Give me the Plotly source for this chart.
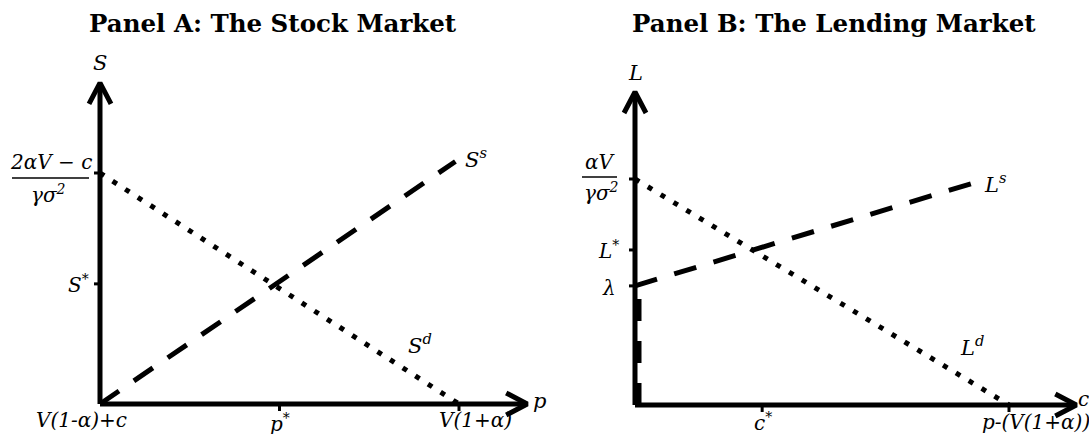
import plotly.graph_objects as go

PAD = 0
W, H = 1089 - PAD, 434 - PAD

# ---------------- data (abstract units) ----------------
# Panel A: the stock market
a_xtick_vals = [0, 50, 100]
a_xtick_text = ["V(1-α)+c", "p<sup>*</sup>", "V(1+α)"]
a_ytick_vals = [52, 100]
a_supply_x = [0, 99]
a_supply_y = [0, 105]
a_demand_x = [0, 100]
a_demand_y = [100, 0]
a_axis_x_end = 119
a_axis_y_end = 139

# Panel B: the lending market
b_xtick_vals = [34, 100]
b_xtick_text = ["c<sup>*</sup>", "p-(V(1+α))"]
b_ytick_vals = [52.7, 68.6, 100]
b_ytick_text = ["λ", "L<sup>*</sup>"]
b_supply_x = [0, 92]
b_supply_y = [52.7, 99]
b_vert_y = [0, 52.7]
b_demand_x = [0, 100]
b_demand_y = [100, 0]
b_axis_x_end = 118
b_axis_y_end = 138.5

# ---------------- geometry (pixels in the page) ----------------
A = dict(ox=100 - PAD, oy=404 - PAD, sx=3.59, sy=2.31)
B = dict(ox=635 - PAD, oy=405 - PAD, sx=3.74, sy=2.26)

def xrange(p):
    return [-p["ox"] / p["sx"], (W - p["ox"]) / p["sx"]]

def yrange(p):
    return [-(H - p["oy"]) / p["sy"], p["oy"] / p["sy"]]

def to_paper(p, x, y):
    xr, yr = xrange(p), yrange(p)
    return (x - xr[0]) / (xr[1] - xr[0]), (y - yr[0]) / (yr[1] - yr[0])

fig = go.Figure()
BLACK = "#000000"
LW = 5
shapes = []

def add_axes(p, xa, ya, xend, yend):
    fig.add_trace(go.Scatter(x=[0, xend], y=[0, 0], mode="lines",
                             line=dict(color=BLACK, width=LW),
                             xaxis=xa, yaxis=ya, hoverinfo="skip"))
    fig.add_trace(go.Scatter(x=[0, 0], y=[0, yend], mode="lines",
                             line=dict(color=BLACK, width=LW),
                             xaxis=xa, yaxis=ya, hoverinfo="skip"))
    ax_l, ax_w = 21, 11
    fig.add_trace(go.Scatter(
        x=[xend - ax_l / p["sx"], xend, xend - ax_l / p["sx"]],
        y=[ax_w / p["sy"], 0, -ax_w / p["sy"]], mode="lines",
        line=dict(color=BLACK, width=LW), xaxis=xa, yaxis=ya, hoverinfo="skip"))
    fig.add_trace(go.Scatter(
        x=[-ax_w / p["sx"], 0, ax_w / p["sx"]],
        y=[yend - ax_l / p["sy"], yend, yend - ax_l / p["sy"]], mode="lines",
        line=dict(color=BLACK, width=LW), xaxis=xa, yaxis=ya, hoverinfo="skip"))

def add_ticks(xvals, yvals, xr, yr):
    for v in xvals:
        shapes.append(dict(type="line", xref=xr, yref=yr, ysizemode="pixel",
                           yanchor=0, x0=v, x1=v, y0=-7, y1=0,
                           line=dict(color=BLACK, width=3)))
    for v in yvals:
        shapes.append(dict(type="line", xref=xr, yref=yr, xsizemode="pixel",
                           xanchor=0, y0=v, y1=v, x0=-6, x1=0,
                           line=dict(color=BLACK, width=3)))

DASH = "23px,18px"
DOT = "5px,10px"

# ---- Panel A ----
fig.add_trace(go.Scatter(x=a_demand_x, y=a_demand_y, mode="lines",
                         line=dict(color=BLACK, width=5, dash=DOT),
                         xaxis="x", yaxis="y", hoverinfo="skip"))
fig.add_trace(go.Scatter(x=a_supply_x, y=a_supply_y, mode="lines",
                         line=dict(color=BLACK, width=5, dash=DASH),
                         xaxis="x", yaxis="y", hoverinfo="skip"))
add_axes(A, "x", "y", a_axis_x_end, a_axis_y_end)
add_ticks(a_xtick_vals[1:], a_ytick_vals, "x", "y")

# ---- Panel B ----
fig.add_trace(go.Scatter(x=b_demand_x, y=b_demand_y, mode="lines",
                         line=dict(color=BLACK, width=5, dash=DOT),
                         xaxis="x2", yaxis="y2", hoverinfo="skip"))
fig.add_trace(go.Scatter(x=b_supply_x, y=b_supply_y, mode="lines",
                         line=dict(color=BLACK, width=5, dash=DASH),
                         xaxis="x2", yaxis="y2", hoverinfo="skip"))
add_axes(B, "x2", "y2", b_axis_x_end, b_axis_y_end)
off = 3 / B["sx"]
fig.add_trace(go.Scatter(x=[off, off], y=b_vert_y, mode="lines",
                         line=dict(color=BLACK, width=7, dash="22px,20px"),
                         xaxis="x2", yaxis="y2", hoverinfo="skip"))
add_ticks(b_xtick_vals, b_ytick_vals, "x2", "y2")

# ---------------- text ----------------
FONT = "DejaVu Serif"
ann = []

def lab(text, x, y, xr, yr, dx=0, dy=0, size=20, xanchor="center"):
    ann.append(dict(text="<i>" + text + "</i>", x=x, y=y, xref=xr, yref=yr,
                    xshift=dx, yshift=dy, showarrow=False, xanchor=xanchor,
                    yanchor="middle", font=dict(family=FONT, size=size, color=BLACK)))

# titles (page pixel centres)
for t, cx in [("Panel A: The Stock Market", 273), ("Panel B: The Lending Market", 834)]:
    ann.append(dict(text="<b>" + t + "</b>", x=(cx - PAD) / W, y=1 - (23 - PAD) / H,
                    xref="paper", yref="paper", showarrow=False, xanchor="center",
                    yanchor="middle", font=dict(family=FONT, size=24.5, color=BLACK)))

# Panel A labels
lab("S", 0, a_axis_y_end, "x", "y", 0, 20, size=21)
lab("p", a_axis_x_end, 0, "x", "y", 12, 3, size=21)
lab(a_xtick_text[0], a_xtick_vals[0], 0, "x", "y", -19, -16)
lab(a_xtick_text[1], a_xtick_vals[1], 0, "x", "y", 0, -19)
lab(a_xtick_text[2], a_xtick_vals[2], 0, "x", "y", 16, -16)
lab("S<sup>*</sup>", 0, a_ytick_vals[0], "x", "y", -9, 0, xanchor="right")
lab("2αV − c", 0, a_ytick_vals[1], "x", "y", -49, 11)
lab("γσ<sup>2</sup>", 0, a_ytick_vals[1], "x", "y", -52, -21)
lab("S<sup>s</sup>", a_supply_x[1], a_supply_y[1], "x", "y", 21, 3, size=21)
lab("S<sup>d</sup>", 89, 100 - 89, "x", "y", 0, 35, size=21)

# Panel B labels
lab("L", 0, b_axis_y_end, "x2", "y2", 0, 19, size=21)
cpx, cpy = to_paper(B, b_axis_x_end, 0)
lab("c", cpx, cpy, "paper", "paper", 7, 6, size=20)
lab(b_xtick_text[0], b_xtick_vals[0], 0, "x2", "y2", 1, -17)
lab(b_xtick_text[1], b_xtick_vals[1], 0, "x2", "y2", 27, -17)
lab(b_ytick_text[0], 0, b_ytick_vals[0], "x2", "y2", -17, -2, xanchor="right")
lab(b_ytick_text[1], 0, b_ytick_vals[1], "x2", "y2", -14, 0, xanchor="right")
lab("αV", 0, b_ytick_vals[2], "x2", "y2", -35, 17)
lab("γσ<sup>2</sup>", 0, b_ytick_vals[2], "x2", "y2", -34, -13)
lab("L<sup>s</sup>", b_supply_x[1], b_supply_y[1], "x2", "y2", 16, -2, size=21)
lab("L<sup>d</sup>", 90, 100 - 90, "x2", "y2", 0, 36, size=21)

# fraction bars
shapes += [
    dict(type="line", xref="x", yref="y", xsizemode="pixel", ysizemode="pixel",
         xanchor=0, yanchor=a_ytick_vals[1], x0=-88, x1=-11, y0=-5, y1=-5,
         line=dict(color=BLACK, width=1.5)),
    dict(type="line", xref="x2", yref="y2", xsizemode="pixel", ysizemode="pixel",
         xanchor=0, yanchor=b_ytick_vals[2], x0=-53, x1=-18, y0=2, y1=2,
         line=dict(color=BLACK, width=1.5)),
]

axis_common = dict(visible=False, showgrid=False, zeroline=False, domain=[0, 1])
fig.update_layout(
    width=W, height=H, margin=dict(l=0, r=0, t=0, b=0),
    paper_bgcolor="white", plot_bgcolor="white", showlegend=False,
    xaxis=dict(range=xrange(A), **axis_common),
    yaxis=dict(range=yrange(A), **axis_common),
    xaxis2=dict(range=xrange(B), anchor="y2", overlaying="x", **axis_common),
    yaxis2=dict(range=yrange(B), anchor="x2", overlaying="y", **axis_common),
    annotations=ann, shapes=shapes,
)

fig.write_html("out.html",
               config={"displayModeBar": False},
               post_script="document.body.style.margin='0px';"
                           "document.body.style.overflow='hidden';")
